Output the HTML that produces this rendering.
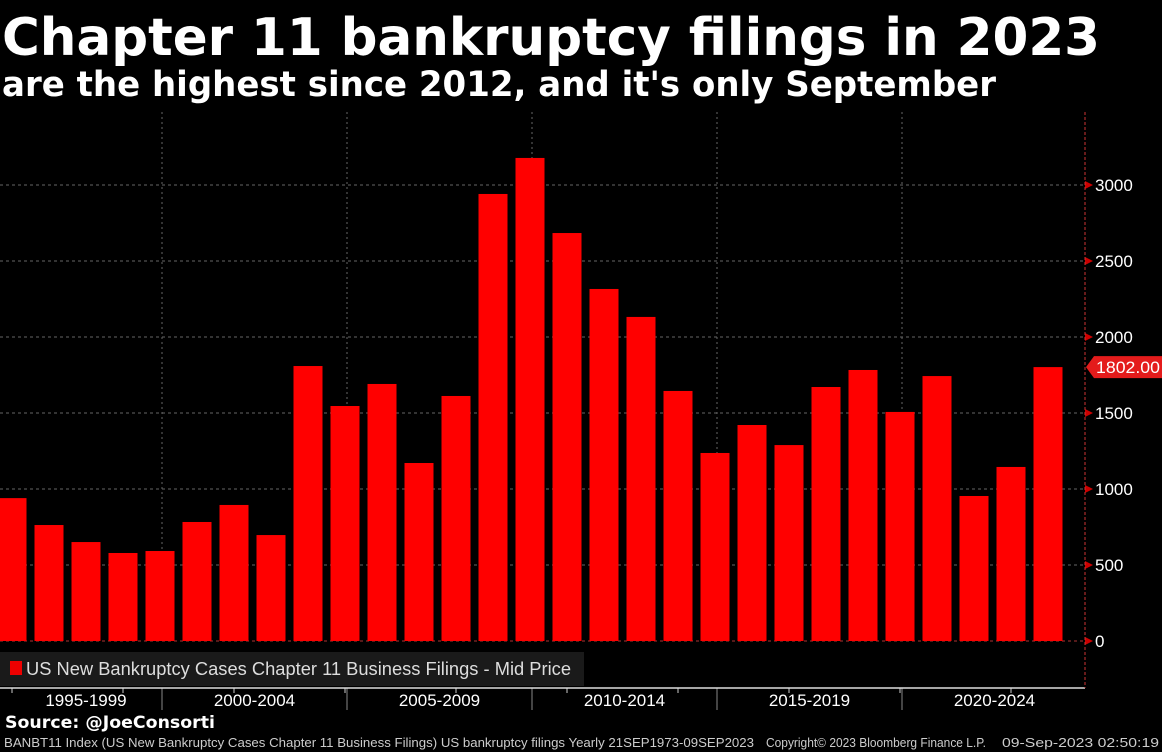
<!DOCTYPE html>
<html><head><meta charset="utf-8"><style>
html,body{margin:0;padding:0;background:#000;}
svg{display:block;}
</style></head><body>
<svg id="chart" width="1162" height="752" viewBox="0 0 1162 752">
<rect width="1162" height="752" fill="#000"/>
<text x="2" y="55" font-size="52" font-weight="bold" fill="#fff" font-family="DejaVu Sans, sans-serif" textLength="1098" lengthAdjust="spacingAndGlyphs">Chapter 11 bankruptcy filings in 2023</text>
<text x="2" y="96" font-size="35" font-weight="bold" fill="#fff" font-family="DejaVu Sans, sans-serif" textLength="994" lengthAdjust="spacingAndGlyphs">are the highest since 2012, and it's only September</text>
<g id="grid"></g>
<g id="bars"></g>
<g id="axis"></g>
<rect x="0" y="652" width="584" height="34" fill="#1a1a1a"/>
<rect x="10" y="661" width="12" height="14" fill="#e00"/>
<text x="26" y="675" font-size="18" fill="#ddd" font-family="Liberation Sans, sans-serif" textLength="545" lengthAdjust="spacingAndGlyphs">US New Bankruptcy Cases Chapter 11 Business Filings - Mid Price</text>
<text x="5" y="728" font-size="17" font-weight="bold" fill="#fff" font-family="DejaVu Sans, sans-serif" textLength="210" lengthAdjust="spacingAndGlyphs">Source: @JoeConsorti</text>
<text x="4" y="747" font-size="12.5" fill="#ccc" font-family="Liberation Sans, sans-serif" textLength="750" lengthAdjust="spacingAndGlyphs">BANBT11 Index (US New Bankruptcy Cases Chapter 11 Business Filings) US bankruptcy filings  Yearly 21SEP1973-09SEP2023</text>
<text x="766" y="747" font-size="12.5" fill="#ccc" font-family="Liberation Sans, sans-serif" textLength="220" lengthAdjust="spacingAndGlyphs">Copyright© 2023 Bloomberg Finance L.P.</text>
<text x="1002" y="747" font-size="12.5" fill="#ccc" font-family="Liberation Sans, sans-serif" textLength="157" lengthAdjust="spacingAndGlyphs">09-Sep-2023 02:50:19</text>
</svg>
<script>
const years=[1995,1996,1997,1998,1999,2000,2001,2002,2003,2004,2005,2006,2007,2008,2009,2010,2011,2012,2013,2014,2015,2016,2017,2018,2019,2020,2021,2022,2023];
const filings=[940,763,651,579,592,783,895,697,1809,1546,1691,1171,1612,2941,3178,2684,2316,2132,1645,1237,1421,1289,1671,1783,1507,1743,954,1145,1802];
const yTicks=[0,500,1000,1500,2000,2500,3000];
const periodLabels=["1995-1999","2000-2004","2005-2009","2010-2014","2015-2019","2020-2024"];
const periodStarts=[1995,2000,2005,2010,2015,2020];
const lastLabel="1802.00";

const NS="http://www.w3.org/2000/svg";
const x=yr=>12+(yr-1995)*37;
const y=v=>641-v*0.152;
const sep=p=>x(p)-35;
function mk(tag,attrs,parent){const e=document.createElementNS(NS,tag);for(const k in attrs)e.setAttribute(k,attrs[k]);parent.appendChild(e);return e;}
const grid=document.getElementById('grid'),bars=document.getElementById('bars'),axis=document.getElementById('axis');
const FF="Liberation Sans, sans-serif";

yTicks.forEach(t=>{
  const l=mk('line',{x1:0,x2:1085,y1:y(t),y2:y(t),stroke:t===0?'#a33':'#666','stroke-dasharray':'3,3','stroke-width':1},grid);
  
  
  const m=mk('path',{d:`M1085 ${y(t)-4} L1093 ${y(t)} L1085 ${y(t)+4}Z`,fill:'#c00'},axis);
  
  
  const tx=mk('text',{x:1095,y:y(t)+6,'font-size':17,fill:'#fff','font-family':FF},axis);
  tx.textContent=t;
  
  
});
periodStarts.forEach((p,i)=>{
  const bx=sep(p);
  if(i>0){
    const g=mk('line',{x1:bx,x2:bx,y1:112,y2:641,stroke:'#666','stroke-dasharray':'2,3'},grid);
    
    
    const s=mk('line',{x1:bx,x2:bx,y1:688,y2:710,stroke:'#888'},axis);
    
    
  }
  const cx=i===0?x(p+2):(sep(p)+sep(p+5))/2;
  const tx=mk('text',{x:cx,y:706,'font-size':17,fill:'#fff','text-anchor':'middle','font-family':FF},axis);
  tx.textContent=periodLabels[i];
  
  
});
years.forEach((yr,i)=>{
  const b=mk('rect',{x:x(yr)-14.5,y:y(filings[i]),width:29,height:641-y(filings[i]),fill:'#ff0000'},bars);
  
  
  if(i%3===0){
    const tk=mk('line',{x1:x(yr),x2:x(yr),y1:688,y2:693,stroke:'#ccc'},axis);
    
    
  }
});
const xl=mk('line',{x1:0,x2:1085,y1:688,y2:688,stroke:'#ddd','stroke-width':1.5},axis);


const yl=mk('line',{x1:1085,x2:1085,y1:112,y2:688,stroke:'#c33','stroke-dasharray':'3,2'},axis);


const lv=filings[filings.length-1];
const tag=mk('path',{d:`M1086 ${y(lv)} L1094 ${y(lv)-11} L1162 ${y(lv)-11} L1162 ${y(lv)+11} L1094 ${y(lv)+11}Z`,fill:'#e41b1b'},axis);


const tt=mk('text',{x:1096,y:y(lv)+6,'font-size':17,fill:'#fff','font-family':FF,textLength:64,lengthAdjust:'spacingAndGlyphs'},axis);
tt.textContent=lastLabel;


</script>
</body></html>
